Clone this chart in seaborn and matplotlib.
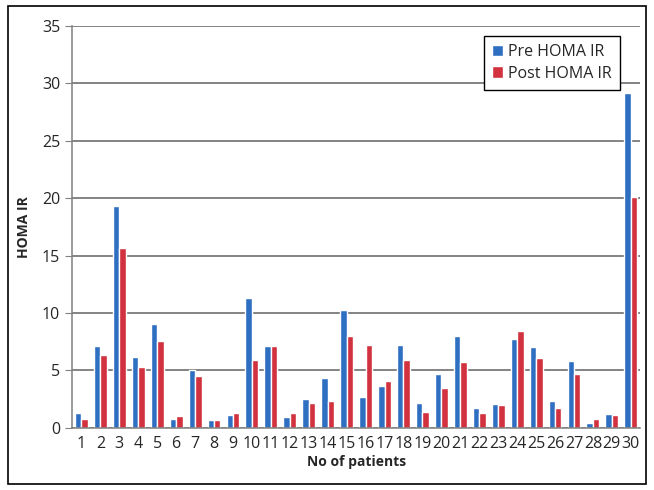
import numpy as np
import pandas as pd
import matplotlib
matplotlib.use('Agg')
import matplotlib.pyplot as plt
import seaborn as sns
from matplotlib.patches import Rectangle

patients = list(range(1, 31))
pre_homa = [1.3, 7.1, 19.3, 6.2, 9.0, 0.8, 5.0, 0.7, 1.1, 11.3,
            7.1, 0.9, 2.5, 4.3, 10.3, 2.7, 3.6, 7.2, 2.2, 4.7,
            8.0, 1.7, 2.1, 7.7, 7.0, 2.3, 5.8, 0.4, 1.2, 29.2]
post_homa = [0.8, 6.3, 15.7, 5.3, 7.6, 1.0, 4.5, 0.7, 1.3, 5.9,
             7.1, 1.3, 2.2, 2.3, 8.0, 7.2, 4.1, 5.9, 1.4, 3.5,
             5.7, 1.3, 2.0, 8.4, 6.1, 1.7, 4.7, 0.8, 1.1, 20.1]
series = ['Pre HOMA IR', 'Post HOMA IR']

df = pd.DataFrame({
    'patient': [str(p) for p in patients] * 2,
    'value': pre_homa + post_homa,
    'series': [series[0]] * 30 + [series[1]] * 30,
})

sns.set_style('white')
plt.rcParams['font.family'] = ['Open Sans', 'DejaVu Sans']

fig = plt.figure(figsize=(6.54, 4.9), dpi=100)
ax = fig.add_axes([0.110, 0.127, 0.869, 0.820])

sns.barplot(data=df, x='patient', y='value', hue='series',
            palette=['#2f6fc2', '#d2323f'], width=0.68, gap=0,
            saturation=1, ax=ax)

ax.set_ylim(0, 35)
ax.set_yticks(np.arange(0, 36, 5))
ax.set_xlim(-0.5, 29.5)
ax.yaxis.grid(True, color='#6e6e6e', linewidth=1.2)
ax.set_axisbelow(True)
for s in ['top', 'right']:
    ax.spines[s].set_visible(False)
for s in ['left', 'bottom']:
    ax.spines[s].set_color('#808080')
    ax.spines[s].set_linewidth(1.1)

ax.set_xticks(np.arange(-0.5, 30, 1), minor=True)
ax.tick_params(axis='x', which='major', length=0, labelsize=11.5, pad=6)
ax.tick_params(axis='x', which='minor', length=5, color='#808080', direction='out')
ax.tick_params(axis='y', length=5, color='#808080', direction='out', labelsize=11.5, left=True)

ax.set_xlabel('No of patients', fontsize=10, fontweight='bold', labelpad=2)
ax.set_ylabel('HOMA IR', fontsize=10, fontweight='bold', labelpad=8)

leg = ax.legend(loc='upper right', bbox_to_anchor=(0.978, 0.995), fontsize=11.5,
                frameon=True, fancybox=False, handlelength=0.7, handleheight=0.7,
                handletextpad=0.3, borderpad=0.5, labelspacing=0.35)
leg.get_frame().set_edgecolor('black')
leg.get_frame().set_linewidth(1.0)
leg.get_frame().set_alpha(1)

fig.patches.append(Rectangle((0.012, 0.012), 0.976, 0.976, transform=fig.transFigure,
                             fill=False, edgecolor='black', linewidth=1.2))

fig.savefig('out.png', dpi=100)
